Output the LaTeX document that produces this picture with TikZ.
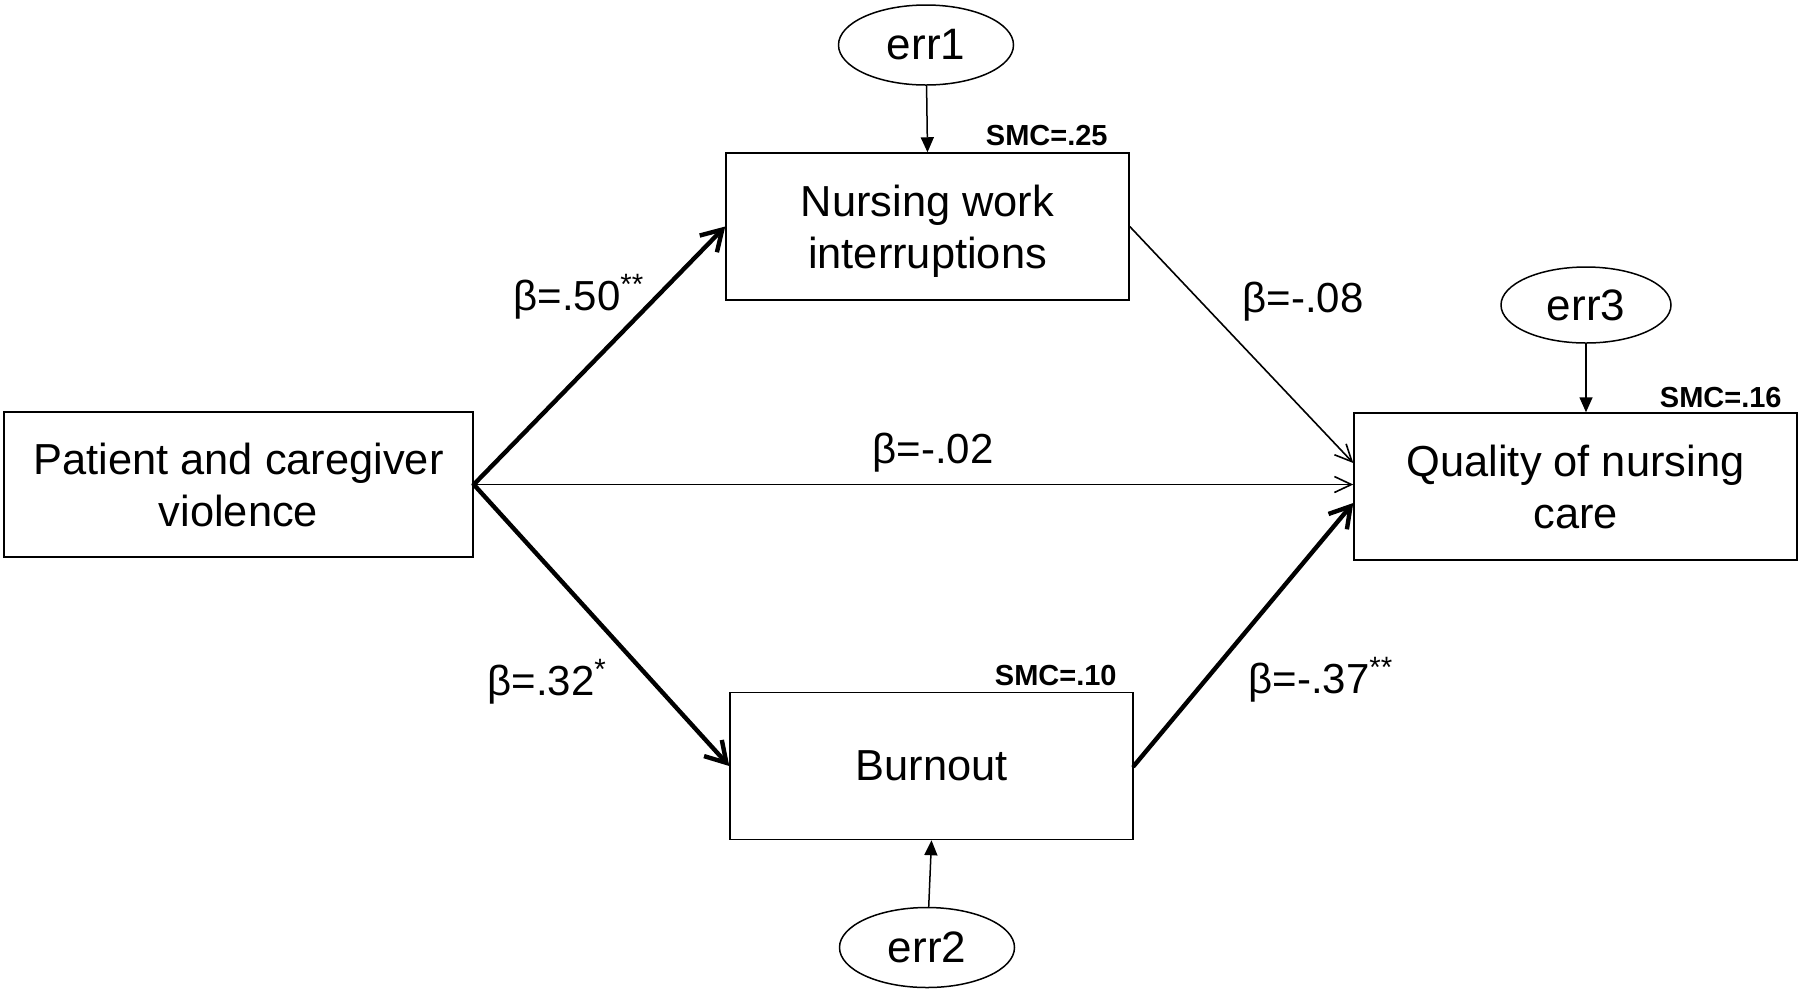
\documentclass[tikz,border=0pt]{standalone}
\usepackage{fontspec}
\setsansfont{Liberation Sans}
\tikzset{every picture/.style={/utils/exec={\sffamily}}}
\usetikzlibrary{calc}
\usetikzlibrary{positioning}
\usetikzlibrary{shapes.geometric}
\usetikzlibrary{arrows.meta}

\tikzset{
  var/.style={draw, line width=0.75pt, minimum height=73.5pt, align=center, inner sep=0pt, text depth=0pt, font=\fontsize{21.7}{26}\selectfont},
  err/.style={draw, ellipse, line width=0.75pt, minimum width=87.5pt, minimum height=40pt, inner sep=0pt, font=\fontsize{22}{26}\selectfont},
  smc/.style={anchor=base east, inner sep=0pt, font=\fontsize{14.5}{17}\selectfont\bfseries},
  coef/.style={anchor=base west, inner sep=0pt, font=\fontsize{21}{26}\selectfont},
  resid/.style={-{Triangle[length=7.5pt,width=6.5pt]}, line width=0.75pt},
  weak/.style={-{Straight Barb[length=8.5pt,width=8pt]}, line width=0.8pt},
  strong/.style={-{Straight Barb[length=10pt,width=12pt]}, line width=2.2pt, line cap=round},
}

\begin{document}
\begin{tikzpicture}[x=0.5pt, y=-0.5pt]
  \useasboundingbox (0,0) rectangle (1800,993);

  % observed variables
  \node [var, minimum width=234.5pt, minimum height=72.5pt] (pcv) at (238.5,484.5) {Patient and caregiver\\violence};
  \node [var, minimum width=201.5pt] (nwi) at (927.5,226.5) {Nursing work\\interruptions};
  \node [var, minimum width=201.5pt] (burn) at (931.5,766) {Burnout};
  \node [var, minimum width=221.5pt] (qnc) at (1575.5,486.5) {Quality of nursing\\care};

  % error terms
  \node [err] (e1) at (926,45) {err1};
  \node [err] (e2) at (927,947.5) {err2};
  \node [err, minimum width=85pt, minimum height=38pt] (e3) at (1586,305) {err3};

  \node [smc] (s1) at (1108,145) {SMC=.25};
  \node [smc] (s2) at (1117,685) {SMC=.10};
  \node [smc] (s3) at (1782,407) {SMC=.16};

  \draw [resid] (e1) -- (nwi.north);
  \draw [resid] (e2) -- (burn.south);
  \draw [resid] (e3) -- (e3 |- qnc.north);

  % paths
  \draw [strong] (pcv.east) -- (nwi.west);
  \draw [strong] (pcv.east) -- (burn.west);
  \draw [weak] (pcv.east) -- (pcv.east -| qnc.west);
  \draw [weak] (nwi.east) -- ([yshift=11.75pt]qnc.west);
  \draw [strong] (burn.east) -- ([yshift=-8.25pt]qnc.west);

  \node [coef] (b1) at (513,310) {β=.50\textsuperscript{**}};
  \node [coef] (b2) at (487,695) {β=.32\textsuperscript{*}};
  \node [coef] (b3) at (872,463) {β=-.02};
  \node [coef] (b4) at (1242,312) {β=-.08};
  \node [coef] (b5) at (1248,693) {β=-.37\textsuperscript{**}};
\end{tikzpicture}
\end{document}
